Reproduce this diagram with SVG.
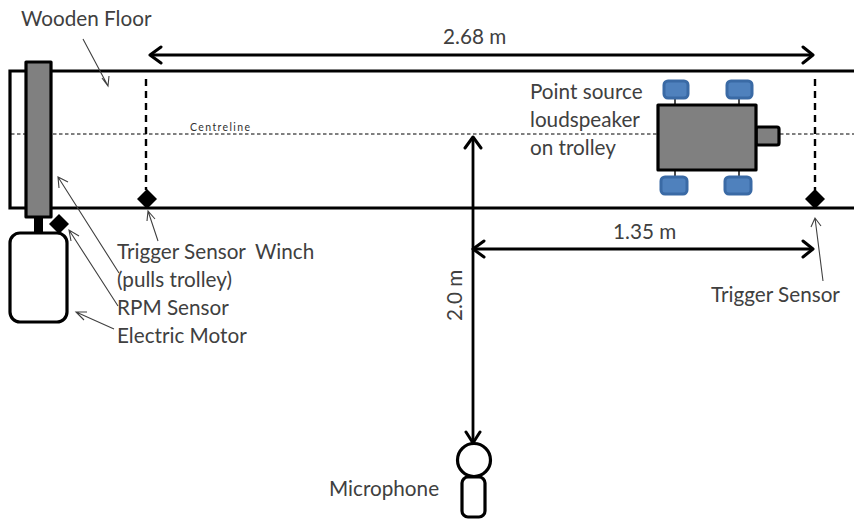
<svg xmlns="http://www.w3.org/2000/svg" width="854" height="519" viewBox="0 0 854 519">
<style>
text{font-family:Lato,"Open Sans","Liberation Sans",sans-serif;font-size:20.7px;fill:#404040}
.c{font-size:10.5px;fill:#303030}
.b{fill:none;stroke:#000;stroke-width:3.2}
.g{fill:#808080;stroke:#000;stroke-width:3.2;stroke-linejoin:round}
.w{fill:#4f81bd;stroke:#3a6aa5;stroke-width:3}
.s{fill:none;stroke:#000;stroke-width:1.4}
.d{fill:none;stroke:#000;stroke-width:2.4;stroke-dasharray:7 5}
.t{fill:none;stroke:#404040;stroke-width:1.1}
.m{fill:none;stroke:#000;stroke-width:3;stroke-linecap:round;stroke-linejoin:round}
.l{stroke:#000;stroke-width:2.8;fill:none}
</style>
<rect width="854" height="519" fill="#fff"/>
<g id="floor">
<path class="b" d="M854 71H10V208H854"/>
<path d="M11 134H658M780 134H854" fill="none" stroke="#000" stroke-width="1" stroke-dasharray="3.5 2.5"/>
<text class="c" x="190" y="131" textLength="60">Centreline</text>
<text x="21" y="26">Wooden Floor</text>
</g>
<g id="winch">
<rect class="g" x="26" y="62" width="25" height="155"/>
<text x="255" y="259">Winch</text>
<text x="117" y="287">(pulls trolley)</text>
</g>
<g id="motor">
<rect x="34" y="217" width="9" height="16" fill="#000"/>
<rect class="b" x="10" y="233" width="57" height="89" rx="10" fill="#fff"/>
<text x="117" y="343">Electric Motor</text>
</g>
<g id="rpm-sensor">
<path d="M59 214L69 224L59 234L49 224Z" fill="#000"/>
<text x="117" y="315">RPM Sensor</text>
</g>
<g id="trigger-left">
<path class="d" d="M146 79V190"/>
<path d="M147 189L157 199L147 209L137 199Z" fill="#000"/>
<text x="117" y="259">Trigger Sensor</text>
</g>
<g id="trigger-right">
<path class="d" d="M815 79V190"/>
<path d="M815 189L825 199L815 209L805 199Z" fill="#000"/>
<text x="711" y="302">Trigger Sensor</text>
</g>
<g id="trolley">
<path class="s" d="M675 98V105M739 98V105M675 170V177M739 170V177"/>
<rect class="w" x="664" y="81" width="24" height="17" rx="4"/>
<rect class="w" x="727" y="81" width="25" height="17" rx="4"/>
<rect class="w" x="661" y="177" width="26" height="17" rx="4"/>
<rect class="w" x="725" y="177" width="26" height="17" rx="4"/>
<rect class="g" x="756" y="127" width="23" height="18" rx="2"/>
<rect class="g" x="658" y="105" width="98" height="65"/>
<text x="530" y="99">Point source</text>
<text x="530" y="127">loudspeaker</text>
<text x="530" y="155">on trolley</text>
</g>
<g id="microphone">
<circle class="b" cx="474" cy="460" r="16.5" fill="#fff"/>
<rect class="b" x="462" y="477" width="23" height="40" rx="6"/>
<text x="329" y="496">Microphone</text>
</g>
<g id="connectors">
<path class="l" d="M150 55H813"/>
<path class="m" d="M161 47L150 55L161 63M803 47L813 55L803 63"/>
<text x="443" y="44">2.68 m</text>
<path class="l" d="M473 249H813"/>
<path class="m" d="M484 241L473 249L484 257M803 241L813 249L803 257"/>
<text x="613" y="239">1.35 m</text>
<path class="l" d="M473 137V443"/>
<path class="m" d="M465 148L473 137L481 148M466 432L473 443L480 432"/>
<text transform="translate(462 321) rotate(-90)">2.0 m</text>
<path class="t" d="M83 39L108 86M102 78L108 86L109 76"/>
<path class="t" d="M119 273L58 177M59 188L58 177L68 182"/>
<path class="t" d="M118 306L69 230M71 241L69 230L79 236"/>
<path class="t" d="M114 329L76 312M84 320L76 312L87 312"/>
<path class="t" d="M158 241L148 211M147 221L148 211L155 219"/>
<path class="t" d="M823 281L815 218M811 227L815 218L821 226"/>
</g>
</svg>
